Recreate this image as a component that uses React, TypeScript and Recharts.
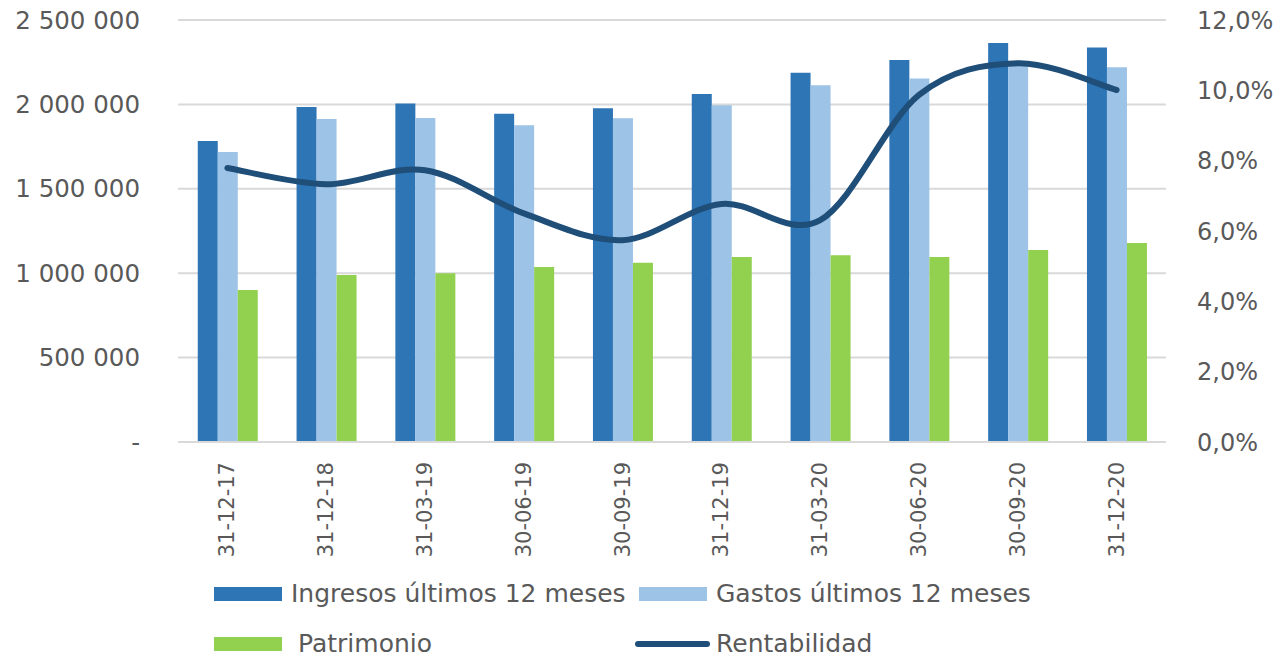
import React from 'react';
import { ComposedChart, Bar, Line, XAxis, YAxis, CartesianGrid, Legend } from 'recharts';

const categories = ['31-12-17', '31-12-18', '31-03-19', '30-06-19', '30-09-19', '31-12-19', '31-03-20', '30-06-20', '30-09-20', '31-12-20'];
const ingresos = [1783000, 1985000, 2006000, 1945000, 1977000, 2062000, 2188000, 2263000, 2364000, 2337000];
const gastos = [1718000, 1913000, 1919000, 1876000, 1918000, 1995000, 2113000, 2154000, 2245000, 2220000];
const patrimonio = [900000, 989000, 1000000, 1037000, 1062000, 1096000, 1106000, 1096000, 1137000, 1179000];
const rentabilidad = [0.0779, 0.0733, 0.0773, 0.065, 0.0574, 0.0677, 0.0631, 0.0987, 0.1077, 0.1001];
const leftTicks = [0, 500000, 1000000, 1500000, 2000000, 2500000];
const rightTicks = [0, 0.02, 0.04, 0.06, 0.08, 0.1, 0.12];

const seriesNames = {
  ingresos: 'Ingresos últimos 12 meses',
  gastos: 'Gastos últimos 12 meses',
  patrimonio: 'Patrimonio',
  rentabilidad: 'Rentabilidad',
};

const data = categories.map((c, i) => ({
  cat: c,
  ingresos: ingresos[i],
  gastos: gastos[i],
  patrimonio: patrimonio[i],
  rentabilidad: rentabilidad[i],
}));

const C_ING = '#2E75B6';
const C_GAS = '#9DC3E6';
const C_PAT = '#92D050';
const C_REN = '#1F4E79';
const TXT = '#595959';
const FONT = 'DejaVu Sans';

const fmtLeft = (v: number) => (v === 0 ? '-' : String(v).replace(/\B(?=(\d{3})+(?!\d))/g, ' '));
const fmtRight = (v: number) => (v * 100).toFixed(1).replace('.', ',') + '%';

// Excel-like smoothed line (uniform Catmull-Rom as cubic Bezier)
function excelCurve(context: any) {
  let pts: [number, number][] = [];
  return {
    areaStart() {},
    areaEnd() {},
    lineStart() {
      pts = [];
    },
    point(x: number, y: number) {
      pts.push([+x, +y]);
    },
    lineEnd() {
      if (!pts.length) return;
      context.moveTo(pts[0][0], pts[0][1]);
      for (let i = 0; i < pts.length - 1; i++) {
        const p0 = pts[i - 1] || pts[i];
        const p1 = pts[i];
        const p2 = pts[i + 1];
        const p3 = pts[i + 2] || p2;
        context.bezierCurveTo(
          p1[0] + (p2[0] - p0[0]) / 6,
          p1[1] + (p2[1] - p0[1]) / 6,
          p2[0] - (p3[0] - p1[0]) / 6,
          p2[1] - (p3[1] - p1[1]) / 6,
          p2[0],
          p2[1]
        );
      }
    },
  };
}

const XTick = (props: any) => {
  const { x, y, payload } = props;
  return (
    <text
      x={x}
      y={y}
      transform={`rotate(-90, ${x}, ${y})`}
      textAnchor="end"
      dominantBaseline="central"
      fill={TXT}
      fontSize={21}
      fontFamily={FONT}
    >
      {payload.value}
    </text>
  );
};

const legendText: React.CSSProperties = {
  position: 'absolute',
  fontFamily: FONT,
  fontSize: 25,
  color: TXT,
  lineHeight: '30px',
  whiteSpace: 'nowrap',
};

const renderLegend = () => (
  <div style={{ position: 'relative', width: 1267, height: 82 }}>
    <div style={{ position: 'absolute', left: 206, top: 13, width: 68, height: 14, background: C_ING }} />
    <div style={{ ...legendText, left: 283, top: 5 }}>{seriesNames.ingresos}</div>
    <div style={{ position: 'absolute', left: 631, top: 13, width: 68, height: 14, background: C_GAS }} />
    <div style={{ ...legendText, left: 708, top: 5 }}>{seriesNames.gastos}</div>
    <div style={{ position: 'absolute', left: 206, top: 63, width: 68, height: 14, background: C_PAT }} />
    <div style={{ ...legendText, left: 290, top: 55 }}>{seriesNames.patrimonio}</div>
    <div style={{ position: 'absolute', left: 627, top: 67, width: 75, height: 6, borderRadius: 3, background: C_REN }} />
    <div style={{ ...legendText, left: 708, top: 55 }}>{seriesNames.rentabilidad}</div>
  </div>
);

export default function App() {
  return (
    <div style={{ width: 1267, height: 648 }}>
      <style>{'.recharts-surface{overflow:visible}'}</style>
      <ComposedChart
        width={1267}
        height={648}
        data={data}
        margin={{ top: 12, right: 0, left: 0, bottom: 0 }}
        barCategoryGap="20%"
        barGap={0}
      >
        <CartesianGrid yAxisId="left" vertical={false} stroke="#D9D9D9" strokeWidth={2} />
        <XAxis
          dataKey="cat"
          height={132}
          tickLine={false}
          tickSize={0}
          tickMargin={20}
          axisLine={{ stroke: '#D9D9D9', strokeWidth: 2 }}
          tick={<XTick />}
          interval={0}
        />
        <YAxis
          yAxisId="left"
          width={170}
          domain={[0, 2500000]}
          ticks={leftTicks}
          tickFormatter={fmtLeft}
          axisLine={false}
          tickLine={false}
          tickSize={0}
          tickMargin={38}
          tick={{ fill: TXT, fontSize: 24.5, fontFamily: FONT }}
          interval={0}
        />
        <YAxis
          yAxisId="right"
          orientation="right"
          width={109}
          domain={[0, 0.12]}
          ticks={rightTicks}
          tickFormatter={fmtRight}
          axisLine={false}
          tickLine={false}
          tickSize={0}
          tickMargin={31}
          tick={{ fill: TXT, fontSize: 24, fontFamily: FONT, textAnchor: 'start' }}
          interval={0}
        />
        <Bar yAxisId="left" dataKey="ingresos" name={seriesNames.ingresos} fill={C_ING} isAnimationActive={false} />
        <Bar yAxisId="left" dataKey="gastos" name={seriesNames.gastos} fill={C_GAS} isAnimationActive={false} />
        <Bar yAxisId="left" dataKey="patrimonio" name={seriesNames.patrimonio} fill={C_PAT} isAnimationActive={false} />
        <Line
          yAxisId="right"
          dataKey="rentabilidad"
          name={seriesNames.rentabilidad}
          type={excelCurve as any}
          stroke={C_REN}
          strokeWidth={6}
          strokeLinecap="round"
          dot={false}
          activeDot={false}
          isAnimationActive={false}
        />
        <Legend
          verticalAlign="bottom"
          height={82}
          content={renderLegend}
          wrapperStyle={{ left: 0, bottom: 0, width: 1267, height: 82 }}
        />
      </ComposedChart>
    </div>
  );
}
